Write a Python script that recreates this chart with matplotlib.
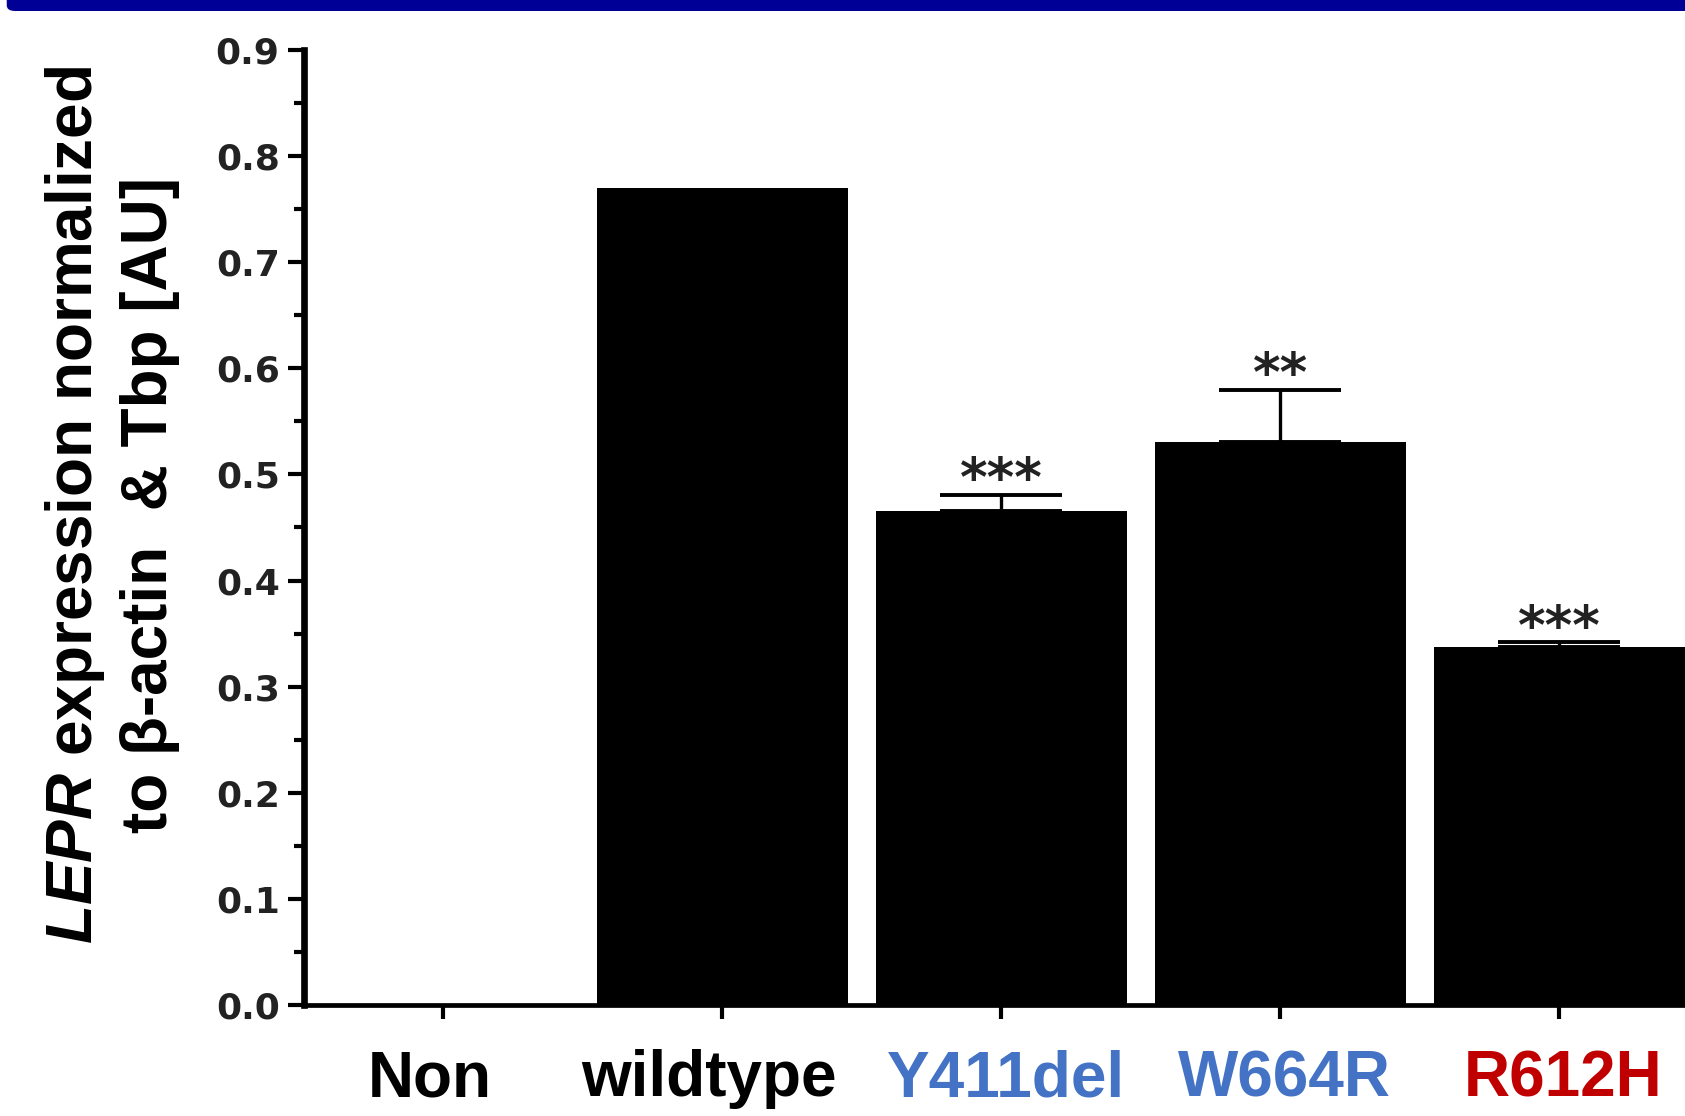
import matplotlib
matplotlib.use('Agg')
import matplotlib.pyplot as plt
from matplotlib.patches import FancyBboxPatch

# data
groups = ['Non', 'wildtype', 'Y411del', 'W664R', 'R612H']
label_colors = ['black', 'black', '#4472C4', '#4472C4', '#C00000']
values = [0.0, 0.77, 0.466, 0.531, 0.337]
errors = [0.0, 0.0, 0.015, 0.049, 0.005]
stars = ['', '', '***', '**', '***']

plt.rcParams['font.family'] = ['Liberation Sans', 'DejaVu Sans']
plt.rcParams['mathtext.fontset'] = 'custom'
plt.rcParams['mathtext.it'] = 'Liberation Sans:italic:bold'

fig = plt.figure(figsize=(16.85, 11.16), dpi=100)
ax = fig.add_axes([0.1804, 0.0995, 0.8196, 0.8557])

x = list(range(len(groups)))
ax.bar(x, values, width=0.9, color='black', zorder=2)

# upper error bars only (only for groups that have one)
ex = [xi for xi, e in zip(x, errors) if e > 0]
ev = [v for v, e in zip(values, errors) if e > 0]
ee = [e for e in errors if e > 0]
ax.errorbar(ex, ev, yerr=[[0] * len(ee), ee], fmt='none',
            ecolor='black', elinewidth=2.4, capsize=44, capthick=2.8, zorder=1)

for xi, v, e, s in zip(x, values, errors, stars):
    if s:
        ax.annotate(s, xy=(xi, v + e), xytext=(0, -9), textcoords='offset points',
                    ha='center', va='bottom', fontsize=38, fontweight='bold',
                    family='DejaVu Sans', color='#222222')

ax.set_xlim(-0.5, 4.45)
ax.set_ylim(0, 0.9)
ax.set_yticks([i / 10 for i in range(10)])
ax.set_yticks([i / 20 for i in range(1, 18, 2)], minor=True)
ax.set_yticklabels([f'{i / 10:.1f}' for i in range(10)],
                   family='DejaVu Sans', fontweight='bold', fontsize=26, color='#222222')
ax.set_xticks(x)
ax.set_xticklabels([])
# group names are not exactly centred on their ticks in the original
nudge = [-10, -10, 3, 3, 3]
for xi, g, c, dx in zip(x, groups, label_colors, nudge):
    ax.annotate(g, xy=(xi, 0), xycoords=('data', 'axes fraction'),
                xytext=(dx, -32), textcoords='offset points',
                ha='center', va='top', fontsize=46, fontweight='bold', color=c,
                annotation_clip=False)

ax.spines['top'].set_visible(False)
ax.spines['right'].set_visible(False)
ax.spines['left'].set_linewidth(4.8)
ax.spines['bottom'].set_linewidth(3.4)
ax.spines['left'].set_zorder(4)
ax.tick_params(axis='y', which='major', length=11.5, width=3, pad=6)
ax.tick_params(axis='y', which='minor', length=7, width=3)
ax.tick_params(axis='x', which='major', length=10, width=3)

fig.text(0.0445, 0.5475, r'$\mathit{LEPR}$ expression normalized', rotation=90,
         ha='center', va='center', fontsize=46, fontweight='bold')
fig.text(0.089, 0.5475, 'to β-actin  & Tbp [AU]', rotation=90,
         ha='center', va='center', fontsize=46, fontweight='bold')

# dark blue band across the top
band = FancyBboxPatch((0.004, 1 - 11 / 1116), 1.0, 0.02, transform=fig.transFigure,
                      boxstyle='round,pad=0,rounding_size=0.005',
                      facecolor='#000096', edgecolor='none')
fig.patches.append(band)

fig.savefig('out.png', dpi=100)
